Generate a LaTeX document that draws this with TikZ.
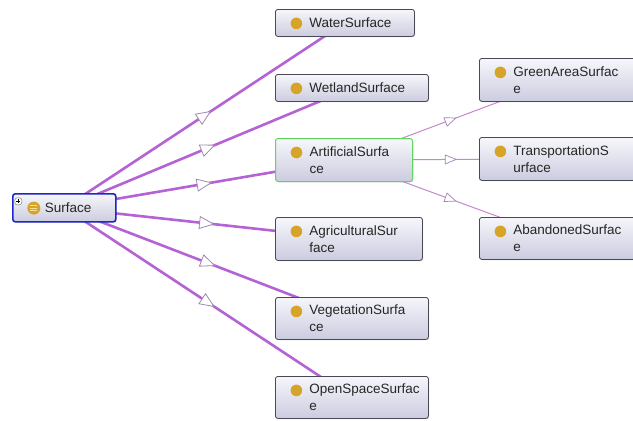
\documentclass[tikz,border=0pt]{standalone}
\usepackage{fontspec}
\setmainfont{Liberation Sans}
\usetikzlibrary{decorations.markings, backgrounds, shadows}
\definecolor{isa}{RGB}{180,98,212}
\definecolor{isalight}{RGB}{200,135,205}
\definecolor{tipline}{RGB}{160,135,178}
\definecolor{clsgold}{RGB}{214,164,40}
\definecolor{clsstripe}{RGB}{248,224,150}
\definecolor{boxtop}{RGB}{246,246,251}
\definecolor{boxbot}{RGB}{204,204,224}
\definecolor{boxline}{RGB}{72,72,86}
\definecolor{selblue}{RGB}{30,40,200}
\definecolor{selgreen}{RGB}{95,215,95}
\tikzstyle{isa} = [line width=2.6pt, draw=isa, decoration={markings,
    mark=at position 0.5 with {\draw[tipline, fill=white, line width=0.8pt]
    (-7pt,-6pt) -- (7pt,0pt) -- (-7pt,6pt) -- cycle;}}, postaction={decorate}]
\tikzstyle{isathin} = [line width=1pt, draw=isalight, decoration={markings,
    mark=at position 0.5 with {\draw[tipline, fill=white, line width=0.7pt]
    (-5.5pt,-4.5pt) -- (5.5pt,0pt) -- (-5.5pt,4.5pt) -- cycle;}}, postaction={decorate}]

\begin{document}
\begin{tikzpicture}[x=1pt, y=-1pt]
    \tikzstyle{cls} = [rectangle, anchor=north west, rounded corners=2.5pt,
        draw=boxline, line width=0.8pt, top color=boxtop, bottom color=boxbot,
        drop shadow={shadow xshift=0.8pt, shadow yshift=-0.8pt, opacity=0.3},
        inner xsep=0pt, inner ysep=2pt, align=left, text=black!85,
        font=\fontsize{13.5}{17}\selectfont,
        execute at begin node={\leftskip=34pt},
        path picture={\fill[clsgold] ([shift={(21pt,-14pt)}]path picture bounding box.north west) circle (5.8pt);}]
    \tikzstyle{root} = [cls, draw=selblue, line width=1.6pt,
        execute at begin node={\leftskip=32pt},
        path picture={
            \fill[clsgold] ([shift={(21pt,-14.3pt)}]path picture bounding box.north west) circle (6.5pt);
            \foreach \dy in {-2.6,0,2.6}
                \draw[clsstripe, line width=1pt] ([shift={(17.5pt,-14.3pt+\dy pt)}]path picture bounding box.north west) -- ++(7pt,0pt);
            \draw[gray, fill=white, line width=0.5pt] ([shift={(2pt,-4pt)}]path picture bounding box.north west) rectangle ++(7pt,-7pt);
            \draw[black, line width=0.6pt] ([shift={(3.5pt,-7.5pt)}]path picture bounding box.north west) -- ++(4pt,0pt)
                ([shift={(5.5pt,-5.5pt)}]path picture bounding box.north west) -- ++(0pt,-4pt);}]

    \useasboundingbox (0,0) rectangle (633,421);

    \node [root, text width=103pt, minimum height=28pt] (surface) at (12,193) {Surface};

    \node [cls, text width=139pt, minimum height=27pt] (water) at (275,9) {WaterSurface};
    \node [cls, text width=153pt, minimum height=27pt] (wetland) at (275,74) {WetlandSurface};
    \node [cls, draw=selgreen, line width=1pt, text width=137pt, minimum height=43pt]
        (artificial) at (275,138) {ArtificialSurfa\\ce};
    \node [cls, text width=147pt, minimum height=43pt] (agricultural) at (275,217) {AgriculturalSur\\face};
    \node [cls, text width=153pt, minimum height=42pt] (vegetation) at (275,297) {VegetationSurfa\\ce};
    \node [cls, text width=153pt, minimum height=42pt] (openspace) at (275,376) {OpenSpaceSurfac\\e};

    \node [cls, text width=156pt, minimum height=43pt] (greenarea) at (479,58) {GreenAreaSurfac\\e};
    \node [cls, text width=156pt, minimum height=43pt] (transportation) at (479,137) {TransportationS\\urface};
    \node [cls, text width=156pt, minimum height=42pt] (abandoned) at (479,217) {AbandonedSurfac\\e};

    \begin{scope}[on background layer]
        \draw [isa] (surface.center) -- (water.center);
        \draw [isa] (surface.center) -- (wetland.center);
        \draw [isa] (surface.center) -- (artificial.center);
        \draw [isa] (surface.center) -- (agricultural.center);
        \draw [isa] (surface.center) -- (vegetation.center);
        \draw [isa] (surface.center) -- (openspace.center);

        \draw [isathin] (artificial.center) -- (greenarea.center);
        \draw [isathin] (artificial.center) -- (transportation.center);
        \draw [isathin] (artificial.center) -- (abandoned.center);
    \end{scope}
\end{tikzpicture}
\end{document}
